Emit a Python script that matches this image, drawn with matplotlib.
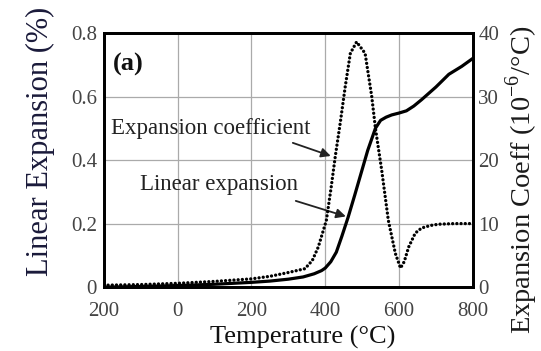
import numpy as np
import matplotlib.pyplot as plt

plt.rcParams['font.family'] = ['Liberation Serif', 'DejaVu Serif']
plt.rcParams['mathtext.fontset'] = 'custom'
plt.rcParams['mathtext.rm'] = 'Liberation Serif'

# linear expansion (%) - left axis
temp_lin = [-200, -100, 0, 100, 200, 250, 300, 340, 370, 390, 400, 415, 430, 445,
            462, 480, 495, 515, 536, 550, 565, 580, 600, 620, 640, 661, 700, 735,
            770, 800]
lin_exp = [0.0, 0.002, 0.005, 0.009, 0.015, 0.019, 0.025, 0.032, 0.042, 0.052,
           0.06, 0.08, 0.11, 0.16, 0.22, 0.29, 0.35, 0.43, 0.50, 0.525, 0.535,
           0.542, 0.548, 0.555, 0.57, 0.59, 0.63, 0.67, 0.695, 0.72]

# expansion coefficient (10^-6/C) - right axis
temp_coef = [-200, -100, 0, 100, 200, 250, 300, 345, 365, 381, 403, 416, 427, 441,
             454, 468, 485, 508, 526, 536, 553, 571, 590, 604, 614, 626, 644, 661,
             685, 707, 750, 800]
exp_coef = [0.3, 0.4, 0.6, 0.9, 1.3, 1.7, 2.3, 2.9, 4.2, 6.3, 10.5, 15.7, 20.5, 26.0,
            31.5, 36.8, 38.6, 36.8, 30.0, 25.0, 18.4, 10.5, 5.3, 3.0, 4.0, 6.3, 8.5,
            9.3, 9.7, 9.9, 10.0, 10.0]

xticks = [-200, 0, 200, 400, 600, 800]
xtick_labels = ['200', '0', '200', '400', '600', '800']
yticks_left = [0, 0.2, 0.4, 0.6, 0.8]
ytick_labels_left = ['0', '0.2', '0.4', '0.6', '0.8']
yticks_right = [0, 10, 20, 30, 40]

fig = plt.figure(figsize=(5.41, 3.51), dpi=100)
ax = fig.add_axes([0.192, 0.182, 0.682, 0.724])
ax2 = ax.twinx()

ax.plot(temp_lin, lin_exp, color='black', lw=2.3, solid_capstyle='round', zorder=3)
ax2.plot(temp_coef, exp_coef, color='black', lw=2.4, linestyle=(0, (0.01, 1.25)),
         dash_capstyle='round', zorder=3)

ax.set_xlim(-200, 800)
ax.set_ylim(0, 0.8)
ax2.set_ylim(0, 40)

ax.set_xticks(xticks)
ax.set_xticklabels(xtick_labels)
ax.set_yticks(yticks_left)
ax.set_yticklabels(ytick_labels_left)
ax2.set_yticks(yticks_right)

ax.grid(True, color='#aaaaaa', lw=0.9)
ax.set_axisbelow(True)

for a in (ax, ax2):
    for s in a.spines.values():
        s.set_linewidth(2.0)
        s.set_color('black')
    a.tick_params(length=0, labelsize=15, labelcolor='#444444')
ax.tick_params(axis='x', pad=11)
ax.tick_params(axis='y', pad=5)
ax2.tick_params(axis='y', pad=4)

ax.set_xlabel('Temperature (°C)', fontsize=19, color='#111111')
ax.xaxis.label.set_va('center')
ax.xaxis.set_label_coords(0.54, -0.2)
ax.set_ylabel('Linear Expansion (%)', fontsize=22, color='#1a1a3a')
ax.yaxis.label.set_va('center')
ax.yaxis.set_label_coords(-0.173, 0.575)
ax2.set_ylabel(r'Expansion Coeff (10$^{-6}$/°C)', fontsize=20.5, color='#1a1a1a',
               rotation=90)
ax2.yaxis.label.set_va('center')
ax2.yaxis.set_label_coords(1.133, 0.42)

ax.text(0.025, 0.875, '(a)', transform=ax.transAxes, fontsize=19,
        fontweight='bold', va='center', ha='left', color='#111111')

ax.annotate('Expansion coefficient', xy=(422, 0.41), xytext=(-182, 0.50),
            fontsize=16.5, color='#222222', va='center', ha='left')
ax.annotate('', xy=(422, 0.41), xytext=(305, 0.457),
            arrowprops=dict(arrowstyle='-|>', color='#222222', lw=1.3,
                            mutation_scale=14))
ax.annotate('Linear expansion', xy=(463, 0.22), xytext=(-103, 0.322),
            fontsize=16.5, color='#222222', va='center', ha='left')
ax.annotate('', xy=(463, 0.22), xytext=(313, 0.274),
            arrowprops=dict(arrowstyle='-|>', color='#222222', lw=1.3,
                            mutation_scale=14))

fig.savefig('out.png', dpi=100)
